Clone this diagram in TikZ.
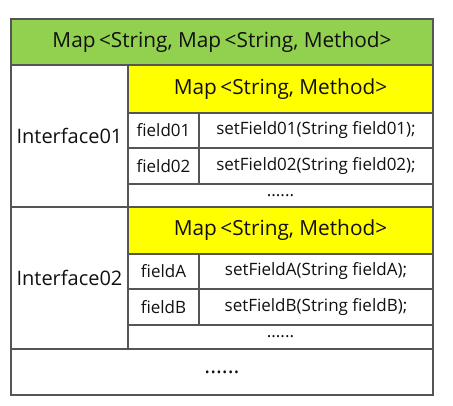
\documentclass[tikz,border=0pt]{standalone}
\usepackage{fontspec}
\setmainfont{Open Sans}
\definecolor{hdrgreen}{HTML}{92D050}
\definecolor{mapyellow}{HTML}{FFFF00}
\definecolor{gridgray}{HTML}{555555}
\definecolor{txt}{HTML}{111111}
\tikzset{
  cellbox/.style={draw=gridgray, line width=1.3pt, rectangle, inner sep=0pt, outer sep=0pt, text=txt, align=center},
  bigfont/.style={font=\fontsize{20.8}{23}\selectfont},
  midfont/.style={font=\fontsize{20}{22}\selectfont},
  smallfont/.style={font=\fontsize{17}{19}\selectfont},
  dotfont/.style={font=\fontsize{22}{24}\selectfont},
}
\newcommand{\cellnode}[7]{%
  \node[cellbox,#6, minimum width={(#4)-(#2)}, minimum height={(#5)-(#3)}] (#1)
    at ({((#2)+(#4))/2},{((#3)+(#5))/2}) {#7};}
\begin{document}
\begin{tikzpicture}[x=1pt,y=-1pt]
\useasboundingbox (0,0) rectangle (453,405);
\fill[white] (0,0) rectangle (453,405);
% header
\cellnode{hdr}{11}{19}{433}{65}{fill=hdrgreen,bigfont}{Map\,<String, Map\,<String, Method>}
% interface 01
\cellnode{if1}{11}{65}{128}{207}{fill=white,midfont}{Interface01}
\cellnode{map1}{128}{65}{433}{113}{fill=mapyellow,bigfont}{Map\,<String, Method>}
\cellnode{f1}{128}{113}{199}{148}{fill=white,smallfont}{field01}
\cellnode{m1}{199}{113}{433}{148}{fill=white,smallfont}{setField01(String field01);}
\cellnode{f2}{128}{148}{199}{184}{fill=white,smallfont}{field02}
\cellnode{m2}{199}{148}{433}{184}{fill=white,smallfont}{setField02(String field02);}
\cellnode{d1}{128}{184}{433}{207}{fill=white,smallfont}{......}
% interface 02
\cellnode{if2}{11}{207}{128}{349}{fill=white,midfont}{Interface02}
\cellnode{map2}{128}{207}{433}{254}{fill=mapyellow,bigfont}{Map\,<String, Method>}
\cellnode{fa}{128}{254}{199}{289}{fill=white,smallfont}{fieldA}
\cellnode{ma}{199}{254}{433}{289}{fill=white,smallfont}{setFieldA(String fieldA);}
\cellnode{fb}{128}{289}{199}{325}{fill=white,smallfont}{fieldB}
\cellnode{mb}{199}{289}{433}{325}{fill=white,smallfont}{setFieldB(String fieldB);}
\cellnode{d2}{128}{325}{433}{349}{fill=white,smallfont}{......}
% bottom
\cellnode{d3}{11}{349}{433}{395}{fill=white,dotfont}{......}
\end{tikzpicture}
\end{document}
